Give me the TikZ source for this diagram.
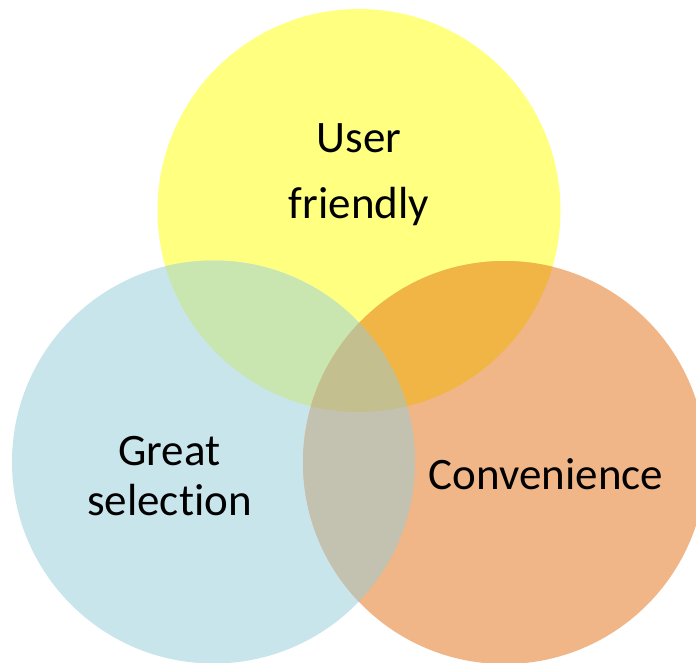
\documentclass[tikz,border=0pt]{standalone}
\usepackage{fontspec}
\setmainfont{Carlito}[Ligatures={NoCommon}]
\usetikzlibrary{positioning}
\definecolor{setYellow}{HTML}{FFFF80}
\definecolor{setBlue}{HTML}{C9E5EC}
\definecolor{setOrange}{HTML}{F0B688}
\definecolor{mixYB}{HTML}{C9E5B0}
\definecolor{mixYO}{HTML}{F1B546}
\definecolor{mixBO}{HTML}{C3C2B0}
\definecolor{mixAll}{HTML}{C3BF8E}
\tikzset{
    x=1pt, y=-1pt, % one unit is one pixel of the picture, y runs down
    set/.style={ % the three discs
        draw=none,
        radius=201.5pt
    },
    tag/.style={ % the labels inside the discs (anchored at the last baseline)
        align=center,
        anchor=base,
        font=\fontsize{45}{66}\selectfont
    },
}

\begin{document}
\begin{tikzpicture}
    \useasboundingbox (0,0) rectangle (696,662);
    \clip (0,0) rectangle (696,662);
    \coordinate (Y) at (359,210.5);
    \coordinate (B) at (213.5,462);
    \coordinate (O) at (504.5,462.5);

    \fill[set, setYellow] (Y) circle;
    \fill[set, setBlue]   (B) circle;
    \fill[set, setOrange] (O) circle;
    % overlaps
    \begin{scope}
        \clip (Y) circle[radius=201.5pt];
        \fill[set, mixYB] (B) circle;
        \fill[set, mixYO] (O) circle;
    \end{scope}
    \begin{scope}
        \clip (B) circle[radius=201.5pt];
        \fill[set, mixBO] (O) circle;
        \clip (O) circle[radius=201.5pt];
        \fill[set, mixAll] (Y) circle;
    \end{scope}

    \node[tag]                                   (user)  at (359,218)   {User\\friendly};
    \node[tag, font=\fontsize{45}{50}\selectfont] (great) at (169.5,515) {Great\\selection};
    \node[tag]                                   (conv)  at (546,489)   {Convenience};
\end{tikzpicture}
\end{document}
